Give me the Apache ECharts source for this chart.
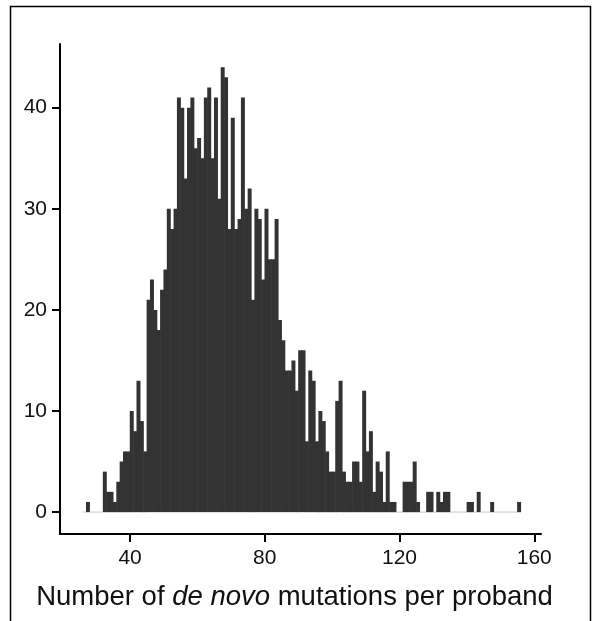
<!DOCTYPE html>
<html>
<head>
<meta charset="utf-8">
<script src="https://cdn.jsdelivr.net/npm/echarts@6/dist/echarts.min.js"></script>
<style>
html,body{margin:0;padding:0;background:#fff;}
#chart{width:598px;height:621px;}
</style>
</head>
<body>
<div id="chart"></div>
<script>
// Histogram: number of de novo mutations per proband, bins of width 1
const firstBin = 26; // left edge of first bin
const counts = [
  0,            // 26
  1,            // 27
  0, 0, 0, 0,   // 28-31
  4, 2, 2, 1, 3, 5, 6, 6,                 // 32-39
  10, 8, 13, 9, 6, 21, 23, 20, 18, 22,    // 40-49
  24, 30, 28, 30, 41, 40, 33, 40, 41, 36, // 50-59
  37, 35, 41, 42, 35, 41, 31, 44, 43, 28, // 60-69
  39, 28, 29, 41, 30, 32, 21, 30, 29, 23, // 70-79
  30, 25, 25, 29, 19, 17, 14, 14, 15, 12, // 80-89
  16, 16, 7, 14, 13, 7, 10, 9, 6, 4,      // 90-99
  4, 11, 13, 4, 3, 3, 5, 5, 3, 12,        // 100-109
  6, 8, 2, 5, 4, 1, 6, 1, 1, 0,           // 110-119
  0, 3, 3, 3, 5, 1, 0, 0, 2, 2,           // 120-129
  0, 2, 1, 2, 2, 0, 0, 0, 0, 0,           // 130-139
  1, 1, 0, 2, 0, 0, 0, 1, 0, 0,           // 140-149
  0, 0, 0, 0, 0, 1                        // 150-155
];
const xTicks = [40, 80, 120, 160];
const yTicks = [0, 10, 20, 30, 40];
const xTitle = '{n|Number of }{i|de novo}{n| mutations per proband}';

const data = counts.map((c, i) => [firstBin + i, c]);
const FONT = 'Liberation Sans, Arial, Helvetica, sans-serif';

const chart = echarts.init(document.getElementById('chart'), null, {renderer: 'canvas'});
chart.setOption({
  animation: false,
  backgroundColor: '#fff',
  grid: {left: 60, right: 57, top: 44, bottom: 87, containLabel: false},
  graphic: [{
    type: 'rect', silent: true, z: 100,
    shape: {x: 10.5, y: 6.5, width: 580, height: 700},
    style: {fill: null, stroke: '#000', lineWidth: 1.5}
  }],
  xAxis: {
    type: 'value', min: 19.2, max: 162,
    axisLine: {onZero: false, lineStyle: {color: '#000', width: 2}},
    axisTick: {customValues: xTicks, length: 8, lineStyle: {color: '#000', width: 2}},
    axisLabel: {customValues: xTicks, margin: 14, fontSize: 21, color: '#111', fontFamily: FONT},
    splitLine: {show: false},
    name: xTitle, nameLocation: 'middle', nameGap: 49,
    nameTextStyle: {
      fontSize: 27.5, color: '#111', fontFamily: FONT, padding: [0, 12, 0, 0],
      rich: {
        n: {fontSize: 27.5, color: '#111', fontFamily: FONT},
        i: {fontSize: 27.5, color: '#111', fontFamily: FONT, fontStyle: 'italic'}
      }
    }
  },
  yAxis: {
    type: 'value', min: -2.17, max: 46.3,
    axisLine: {onZero: false, lineStyle: {color: '#000', width: 2}},
    axisTick: {customValues: yTicks, length: 8, lineStyle: {color: '#000', width: 2}},
    axisLabel: {customValues: yTicks, margin: 13, fontSize: 21, color: '#111', fontFamily: FONT},
    splitLine: {show: false}
  },
  series: [{
    type: 'custom',
    data: data,
    encode: {x: 0, y: 1},
    renderItem: function (params, api) {
      const k = api.value(0), v = api.value(1);
      const p0 = api.coord([k, 0]);
      const p1 = api.coord([k + 1, v]);
      const children = [{
        type: 'line',
        shape: {x1: p0[0], y1: p0[1], x2: p1[0], y2: p0[1]},
        style: {stroke: '#c8c8c8', lineWidth: 1}
      }];
      if (v > 0) {
        children.push({
          type: 'rect',
          shape: {x: p0[0] - 0.3, y: p1[1], width: p1[0] - p0[0] + 0.6, height: p0[1] - p1[1]},
          style: {fill: '#333333'}
        });
      }
      return {type: 'group', children: children};
    }
  }]
});
</script>
</body>
</html>
